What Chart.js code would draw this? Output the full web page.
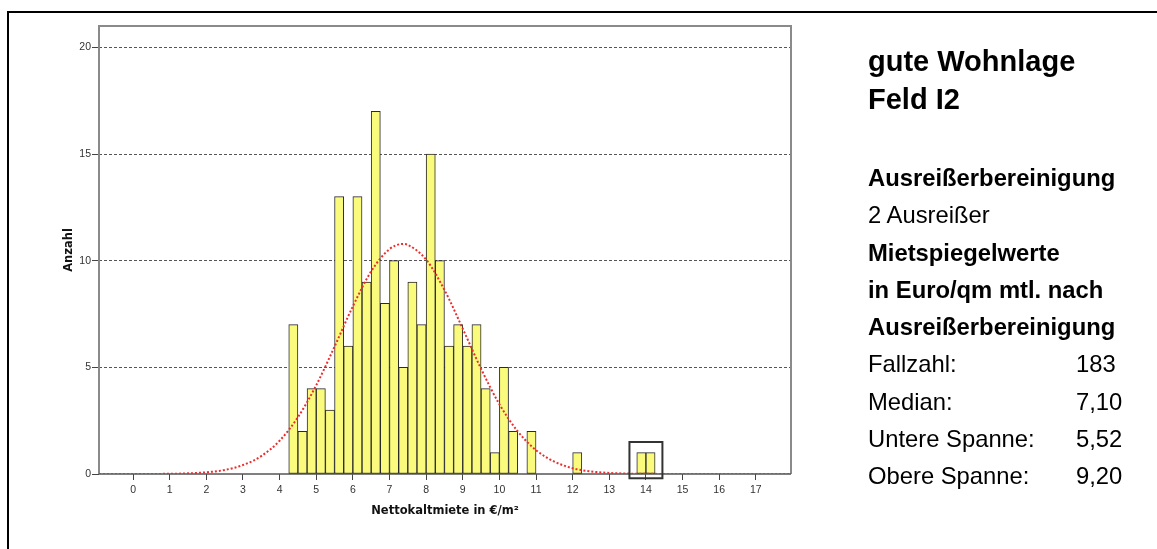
<!DOCTYPE html>
<html lang="de">
<head>
<meta charset="utf-8">
<title>Nettokaltmiete – gute Wohnlage Feld I2</title>
<script src="https://cdn.jsdelivr.net/npm/chart.js@4/dist/chart.umd.min.js"></script>
<style>
  html, body { margin: 0; padding: 0; background: #fff; width: 1157px; height: 549px; overflow: hidden; }
  #frame { position: absolute; left: 7px; top: 11px; width: 1200px; height: 600px;
           border-left: 2px solid #000; border-top: 2px solid #000; box-sizing: border-box; }
  #chart { position: absolute; left: 0; top: 0; }
  .panel { position: absolute; left: 868px; font-family: "Liberation Sans", Arial, sans-serif; color: #000; white-space: nowrap; }
  #heading { top: 42px; font-size: 29px; font-weight: bold; line-height: 38.3px; }
  #body { top: 159px; font-size: 23.8px; line-height: 37.25px; }
  #body .b { font-weight: bold; }
  #body .row { position: relative; }
  #body .val { position: absolute; left: 208px; top: 0; }
</style>
</head>
<body>
<div id="frame"></div>
<canvas id="chart" width="1157" height="549"></canvas>
<div class="panel" id="heading"></div>
<div class="panel" id="body"></div>
<script>
// Histogram bins (lower edge, width 0.25 €/m²) and their counts
const binWidth = 0.25;
const binStart = [4.25, 4.5, 4.75, 5, 5.25, 5.5, 5.75, 6, 6.25, 6.5,
                  6.75, 7, 7.25, 7.5, 7.75, 8, 8.25, 8.5, 8.75, 9,
                  9.25, 9.5, 9.75, 10, 10.25, 10.5, 10.75, 11, 11.25, 11.5,
                  11.75, 12, 12.25, 12.5, 12.75, 13, 13.25, 13.5, 13.75, 14];
const counts   = [7, 2, 4, 4, 3, 13, 6, 13, 9, 17,
                  8, 10, 5, 9, 7, 15, 10, 6, 7, 6,
                  7, 4, 1, 5, 2, 0, 2, 0, 0, 0,
                  0, 1, 0, 0, 0, 0, 0, 0, 1, 1];

// Normal curve overlay, sampled along the x axis
const curveX = [-0.93, 0, 1, 1.5, 2, 2.5, 3, 3.5, 4, 4.5, 5, 5.5, 6, 6.5, 7, 7.36, 7.5,
                8, 8.5, 9, 9.5, 10, 10.5, 11, 11.5, 12, 12.5, 13, 13.5, 14, 15, 16, 17, 17.96];
const curveY = [0, 0, 0.01, 0.03, 0.08, 0.19, 0.42, 0.84, 1.56, 2.66, 4.16, 5.97, 7.86, 9.5, 10.54, 10.78, 10.74,
                10.05, 8.63, 6.81, 4.93, 3.27, 2.0, 1.12, 0.58, 0.27, 0.12, 0.05, 0.02, 0.01, 0, 0, 0, 0];

// Axis ticks
const xTickValues = [0, 1, 2, 3, 4, 5, 6, 7, 8, 9, 10, 11, 12, 13, 14, 15, 16, 17];
const yTickValues = [0, 5, 10, 15, 20];

// Marked outliers (bins around 14 €/m²)
const outlierBox = { xMin: 13.55, xMax: 14.45, yMin: -0.2, yMax: 1.5 };

// Side panel texts
const headingLines = ["gute Wohnlage", "Feld I2"];
const infoLines = [
  { text: "Ausreißerbereinigung", bold: true },
  { text: "2 Ausreißer", bold: false },
  { text: "Mietspiegelwerte", bold: true },
  { text: "in Euro/qm mtl. nach", bold: true },
  { text: "Ausreißerbereinigung", bold: true }
];
const statLabels = ["Fallzahl:", "Median:", "Untere Spanne:", "Obere Spanne:"];
const statValues = ["183", "7,10", "5,52", "9,20"];

// --- side panel ---
const heading = document.getElementById('heading');
headingLines.forEach(t => { const d = document.createElement('div'); d.textContent = t; heading.appendChild(d); });
const body = document.getElementById('body');
infoLines.forEach(l => {
  const d = document.createElement('div');
  d.textContent = l.text;
  if (l.bold) d.className = 'b';
  body.appendChild(d);
});
statLabels.forEach((lab, i) => {
  const row = document.createElement('div');
  row.className = 'row';
  const a = document.createElement('span'); a.textContent = lab;
  const v = document.createElement('span'); v.className = 'val'; v.textContent = statValues[i];
  row.appendChild(a); row.appendChild(v);
  body.appendChild(row);
});

// --- chart ---
const plotFrame = {
  id: 'plotFrame',
  beforeDatasetsDraw(chart) {
    const { ctx, chartArea: a } = chart;
    ctx.save();
    ctx.strokeStyle = '#8a8a8a';
    ctx.lineWidth = 2;
    ctx.beginPath();
    ctx.moveTo(a.left, a.bottom);
    ctx.lineTo(a.left, a.top);
    ctx.lineTo(a.right, a.top);
    ctx.lineTo(a.right, a.bottom);
    ctx.stroke();
    ctx.strokeStyle = '#555';
    ctx.lineWidth = 1.5;
    ctx.beginPath();
    ctx.moveTo(a.left, a.bottom);
    ctx.lineTo(a.right, a.bottom);
    ctx.stroke();
    ctx.restore();
  }
};

const outlierMarker = {
  id: 'outlierMarker',
  afterDatasetsDraw(chart) {
    const { ctx, scales: { x, y } } = chart;
    const x0 = x.getPixelForValue(outlierBox.xMin), x1 = x.getPixelForValue(outlierBox.xMax);
    const y0 = y.getPixelForValue(outlierBox.yMax), y1 = y.getPixelForValue(outlierBox.yMin);
    ctx.save();
    ctx.strokeStyle = '#333';
    ctx.lineWidth = 2;
    ctx.strokeRect(x0, y0, x1 - x0, y1 - y0);
    ctx.restore();
  }
};

const tickFont = { family: '"Liberation Sans", Arial, sans-serif', size: 10.5 };
const titleFont = { family: '"DejaVu Sans", Verdana, sans-serif', size: 11.5, weight: 'bold' };

new Chart(document.getElementById('chart'), {
  type: 'bar',
  data: {
    datasets: [
      {
        type: 'line',
        data: curveX.map((x, i) => ({ x, y: curveY[i] })),
        borderColor: 'rgb(235,45,45)',
        borderWidth: 2,
        borderDash: [2, 2],
        pointRadius: 0,
        cubicInterpolationMode: 'monotone',
        order: 1
      },
      {
        type: 'bar',
        data: binStart.map((s, i) => ({ x: s + binWidth / 2, y: counts[i] > 0 ? counts[i] : null })),
        backgroundColor: 'rgb(250,250,125)',
        borderColor: '#2a2a2a',
        borderWidth: 1,
        borderSkipped: false,
        barPercentage: 1,
        categoryPercentage: 1,
        order: 2
      }
    ]
  },
  options: {
    responsive: false,
    animation: false,
    devicePixelRatio: 1,
    layout: { padding: { top: 26, right: 366, left: 0, bottom: 0 } },
    plugins: { legend: { display: false }, tooltip: { enabled: false } },
    scales: {
      x: {
        type: 'linear',
        min: -0.93,
        max: 17.96,
        offset: false,
        afterBuildTicks: s => { s.ticks = xTickValues.map(v => ({ value: v })); },
        afterFit: s => { s.height = 75; },
        ticks: { font: tickFont, color: '#333', padding: 4, maxRotation: 0, autoSkip: false },
        grid: { offset: false, drawOnChartArea: false, drawTicks: true, tickLength: 6, tickColor: '#444', tickWidth: 1 },
        border: { display: false },
        title: { display: true, text: 'Nettokaltmiete in €/m²', font: titleFont, color: '#111', padding: { top: 0, bottom: 31 } }
      },
      y: {
        min: 0,
        max: 21,
        afterBuildTicks: s => { s.ticks = yTickValues.map(v => ({ value: v })); },
        afterFit: s => { s.width = 99; },
        ticks: { font: tickFont, color: '#333', padding: 1 },
        grid: {
          color: c => (c.tick && c.tick.value === 0) ? 'rgba(0,0,0,0)' : '#555',
          lineWidth: 1,
          drawTicks: true,
          tickLength: 7,
          tickColor: '#444',
          tickWidth: 1,
          tickBorderDash: []
        },
        border: { display: false, dash: [3, 2] },
        title: { display: true, text: 'Anzahl', font: titleFont, color: '#111', padding: { top: 62, bottom: 0 } }
      }
    }
  },
  plugins: [plotFrame, outlierMarker]
});
</script>
</body>
</html>
